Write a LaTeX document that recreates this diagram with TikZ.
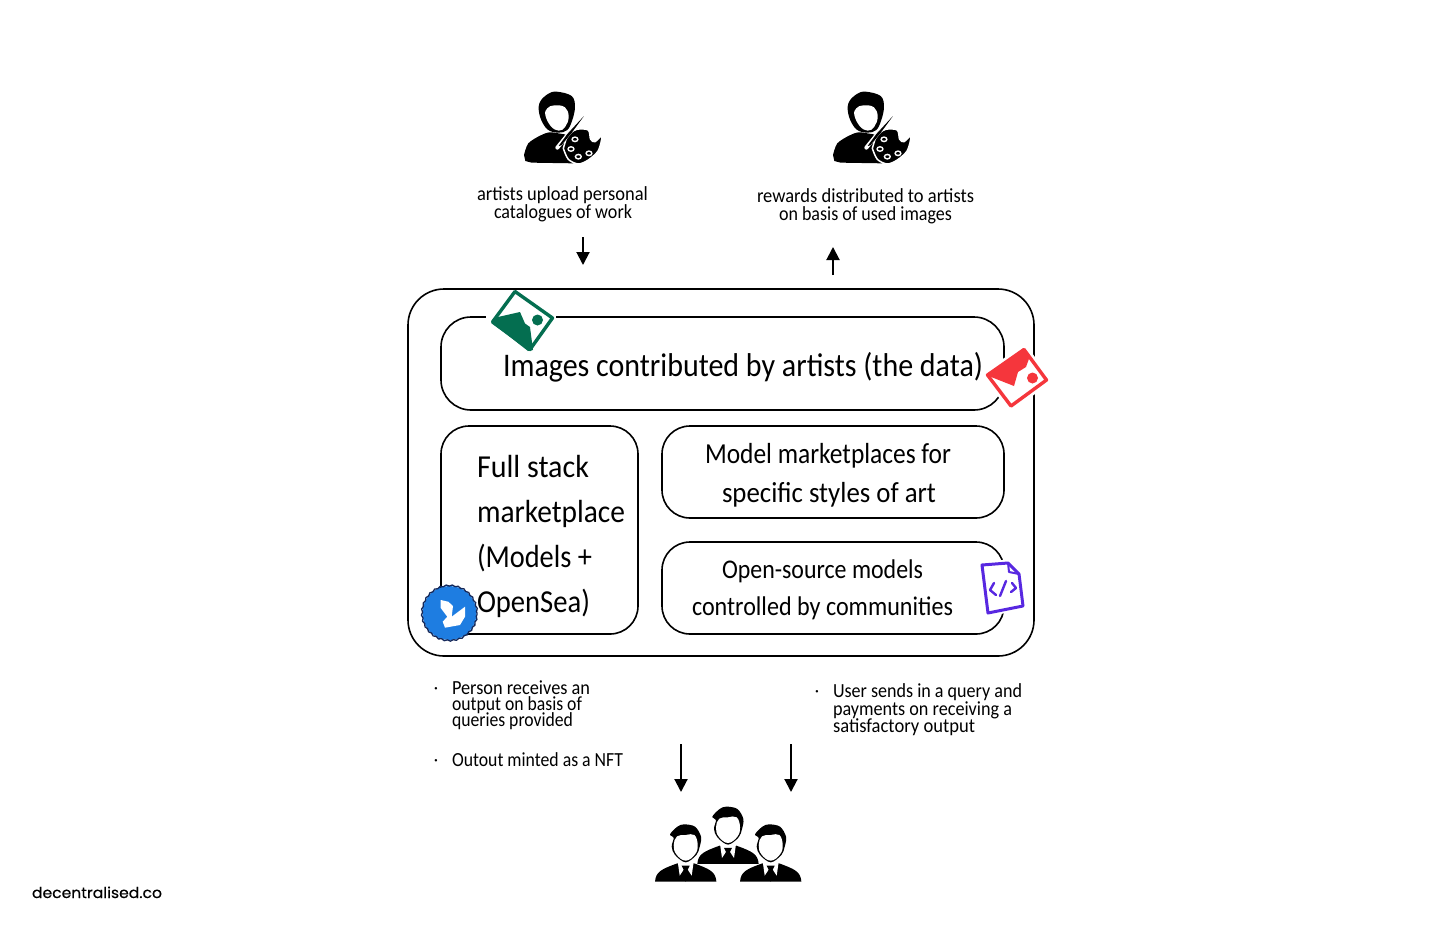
\documentclass[tikz,border=0pt]{standalone}
\usepackage{fontspec}
\setmainfont{Carlito}
\newfontfamily\logofont{Poppins}[FakeBold=0.35]
\usetikzlibrary{arrows.meta,decorations.pathmorphing}
\newcommand{\tx}[3]{\resizebox{#1pt}{\height}{\fontsize{#2pt}{#2pt}\selectfont #3}}
\definecolor{gicon}{RGB}{4,110,80}
\definecolor{ricon}{RGB}{245,54,60}
\definecolor{bicon}{RGB}{30,125,225}
\definecolor{picon}{RGB}{88,40,225}
\tikzset{
 x=1pt,y=-1pt,
 lab/.style={inner sep=0pt,outer sep=0pt,anchor=base west,text=black},
 labc/.style={inner sep=0pt,outer sep=0pt,anchor=base,text=black},
 box/.style={draw=black,line width=1.6pt,fill=white,inner sep=0pt,outer sep=0pt,anchor=north west,rounded corners=#1},
 arr/.style={line width=2pt,-{Stealth[length=13pt,width=13pt,inset=0pt]}},
 artist/.pic={
  \begin{scope}[x=.3333pt,y=-.3333pt]
   % body
   \fill[black] plot[smooth,tension=.5] coordinates {(192,225)(205,190)(240,167)(268,157)(295,160)(325,165)} -- (340,250) -- (215,248) -- (196,243) -- cycle;
   % hair and face
   \fill[black] plot[smooth cycle,tension=.6] coordinates {(290,35)(335,48)(345,80)(337,120)(322,150)(295,158)(262,148)(240,110)(238,70)(262,43)};
   \fill[white] plot[smooth cycle,tension=.7] coordinates {(283,76)(315,82)(326,110)(316,140)(296,152)(272,138)(256,105)(262,85)};
   % palette with a white gap towards the body
   \filldraw[black,draw=white,line width=1.5pt] plot[smooth,tension=.5] coordinates {(322,165)(350,148)(385,150)(392,178)(405,185)(426,168)(415,212)(385,240)(355,252)(325,238)(310,205)} -- cycle;
   % brush
   \draw[white,line width=4pt,line cap=round] (292,203) -- (335,150);
   \fill[black] (296,198) -- (322,162) -- (372,108) -- (334,160) -- (304,196) -- cycle;
   \foreach \a/\b in {345/178,333/207,355/230,387/220}{
     \fill[white] (\a,\b) ellipse [x radius=11,y radius=9];
     \fill[black] (\a,\b) ellipse [x radius=6,y radius=4];}
  \end{scope}},
 suit/.pic={
  \begin{scope}[x=.3333pt,y=-.3333pt]
   \fill[black] (-92,110) .. controls (-90,80) and (-72,72) .. (-25,55) -- (25,55) .. controls (72,72) and (90,80) .. (92,110) -- cycle;
   \fill[white] (-24,50) -- (24,50) -- (18,92) -- (5,72) -- (-5,72) -- (-18,92) -- cycle;
   \fill[black] (-12,62) -- (12,62) -- (5,76) -- (9,95) -- (0,110) -- (-9,95) -- (-5,76) -- cycle;
   \fill[black] plot[smooth cycle,tension=.55] coordinates {(-5,-62)(28,-55)(46,-25)(42,5)(32,30)(0,52)(-32,30)(-42,5)(-36,-22)(-47,-32)(-25,-55)};
   \fill[white] plot[smooth cycle,tension=.7] coordinates {(0,-30)(26,-30)(36,0)(28,28)(0,47)(-28,28)(-36,0)(-26,-26)};
  \end{scope}}
}
\begin{document}
\begin{tikzpicture}
\useasboundingbox (0,0) rectangle (1456,946);
\fill[white] (0,0) rectangle (1456,946);

\pic at (460,80) {artist};
\pic at (769,80) {artist};

\node[lab] (t1) at (477,200) {\tx{171}{20}{artists upload personal}};
\node[lab] (t2) at (494,218) {\tx{138}{20}{catalogues of work}};
\node[lab] (t3) at (757,202) {\tx{217}{20}{rewards distributed to artists}};
\node[lab] (t4) at (779,220) {\tx{173}{20}{on basis of used images}};

\coordinate (a1s) at (583,237); \coordinate (a1e) at (583,265);
\coordinate (a2s) at (833,275); \coordinate (a2e) at (833,247);
\draw[arr] (a1s) -- (a1e);
\draw[arr] (a2s) -- (a2e);

\node[box=36pt,minimum width=626pt,minimum height=367pt] (outer) at (408,289) {};
\node[box=30pt,minimum width=563pt,minimum height=93pt] (images) at (441,317) {};
\node[box=28pt,minimum width=197pt,minimum height=208pt] (full) at (441,426) {};
\node[box=28pt,minimum width=342pt,minimum height=92pt] (model) at (662,426) {};
\node[box=28pt,minimum width=342pt,minimum height=92pt] (open) at (662,542) {};

\node[lab] (i1) at (503,376) {\tx{480}{33}{Images contributed by artists (the data)}};
\node[lab] (f1) at (477,477) {\tx{112}{32}{Full stack}};
\node[lab] (f2) at (477,522) {\tx{148}{32}{marketplace}};
\node[lab] (f3) at (477,567) {\tx{115}{32}{(Models +}};
\node[lab] (f4) at (477,612) {\tx{113}{32}{OpenSea)}};
\node[lab] (m1) at (705,463) {\tx{246}{29}{Model marketplaces for}};
\node[lab] (m2) at (722,502) {\tx{214}{29}{specific styles of art}};
\node[lab] (o1) at (722,578) {\tx{201}{27}{Open-source models}};
\node[lab] (o2) at (692,615) {\tx{261}{27}{controlled by communities}};

% green image icon
\fill[white] (486,314) rectangle (556,320);
\draw[gicon,line width=3.4pt,line join=round,fill=white] (515,291.5) -- (552.5,318) -- (530,349.5) -- (492.5,322) -- cycle;
\fill[gicon] (491,322) -- (498,317) -- (520,312) -- (525,323.5) -- (530,327) -- (533,350) -- (528,351) -- cycle;
\fill[gicon] (537.5,320) circle (5.5pt);

% red icon
\draw[white,line width=8pt,line join=round] (1024,349) -- (1047,380) -- (1011,407) -- (987,375) -- cycle;
\draw[ricon,line width=3.4pt,line join=round,fill=white] (1024,349.5) -- (1046.5,380) -- (1011,406) -- (987.5,375) -- cycle;
\fill[ricon] (986,375) -- (1024,348) -- (1030,356) -- (1026,367) -- (1018,372) -- (1014,386) -- cycle;
\fill[ricon] (1032.5,378) circle (5.5pt);

% blue badge
\fill[bicon] (449.5,613) circle (27pt);
\draw[color={rgb,255:red,20;green,40;blue,90},line width=1.3pt,decorate,decoration={zigzag,segment length=6pt,amplitude=.6pt}] (449.5,613) circle (27.5pt);
\fill[white] (440.7,600) -- (448.3,601.7) -- (453,606) -- (451.7,616.7) -- (465,606.7) -- (465,616.7) -- (460,625) -- (445,627.7) -- (442.7,621.7) -- (447.3,616.7) -- (440.7,608) -- cycle;

% purple file icon
\draw[white,line width=7pt,line join=round] (982,565) -- (1008,563) -- (1019,574) -- (1023,606) -- (988,613) -- cycle;
\draw[picon,line width=3pt,line join=round,fill=white] (982,565) -- (1008,563) -- (1019,574) -- (1023,606) -- (988,613) -- cycle;
\draw[picon,line width=2pt,line join=round] (1008,563) -- (1009,572) -- (1019,574);
\draw[picon,line width=2.4pt,line cap=round,line join=round]
  (994,583) -- (990,590) -- (996,595)
  (1006,581) -- (1000,596)
  (1012,583) -- (1016,588) -- (1011,592);

% lower texts
\node[labc] (b1) at (436,693) {\fontsize{17pt}{17pt}\selectfont ·};
\node[labc] (b2) at (436,765) {\fontsize{17pt}{17pt}\selectfont ·};
\node[labc] (b3) at (817,696) {\fontsize{17pt}{17pt}\selectfont ·};
\node[lab] (p1) at (452,694) {\tx{138}{20}{Person receives an}};
\node[lab] (p2) at (452,710) {\tx{130}{20}{output on basis of}};
\node[lab] (p3) at (452,726) {\tx{121}{20}{queries provided}};
\node[lab] (p4) at (452,766) {\tx{171}{20}{Outout minted as a NFT}};
\node[lab] (u1) at (833,697) {\tx{189}{20}{User sends in a query and}};
\node[lab] (u2) at (833,715) {\tx{179}{20}{payments on receiving a}};
\node[lab] (u3) at (833,732) {\tx{142}{20}{satisfactory output}};

\coordinate (a3s) at (681,744); \coordinate (a3e) at (681,792);
\coordinate (a4s) at (791,744); \coordinate (a4e) at (791,792);
\draw[arr] (a3s) -- (a3e);
\draw[arr] (a4s) -- (a4e);

\pic at (728,827.3) {suit};
\fill[white] (690,864) rectangle (770,885);
\pic at (685.7,845) {suit};
\pic at (770.7,845) {suit};

\node[lab] (logo) at (32,898) {\tx{130}{15}{\logofont decentralised.co}};
\end{tikzpicture}
\end{document}
